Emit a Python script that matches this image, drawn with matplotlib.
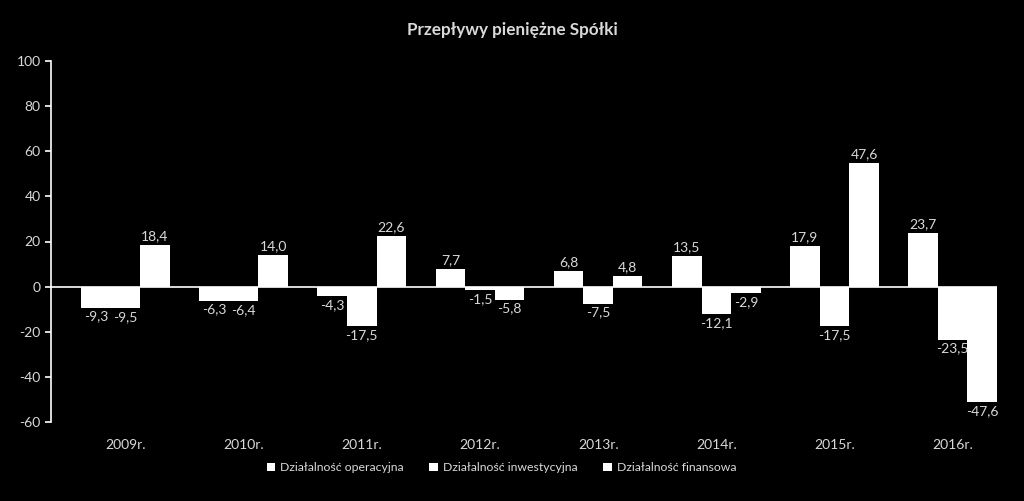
import numpy as np
import matplotlib.pyplot as plt

plt.rcParams['font.family'] = ['Lato', 'DejaVu Sans']
plt.rcParams['axes.unicode_minus'] = False

years = ['2009r.', '2010r.', '2011r.', '2012r.', '2013r.', '2014r.', '2015r.', '2016r.']
series_names = ['Działalność operacyjna', 'Działalność inwestycyjna', 'Działalność finansowa']

# bar heights as drawn in the picture
operacyjna = [-9.3, -6.3, -4.3, 7.7, 6.8, 13.5, 17.9, 23.7]
inwestycyjna = [-9.5, -6.4, -17.5, -1.5, -7.5, -12.1, -17.5, -23.5]
finansowa = [18.4, 14.0, 22.6, -5.8, 4.8, -2.9, 54.8, -51.1]

# printed labels (two of them differ from the drawn heights)
operacyjna_lbl = ['-9,3', '-6,3', '-4,3', '7,7', '6,8', '13,5', '17,9', '23,7']
inwestycyjna_lbl = ['-9,5', '-6,4', '-17,5', '-1,5', '-7,5', '-12,1', '-17,5', '-23,5']
finansowa_lbl = ['18,4', '14,0', '22,6', '-5,8', '4,8', '-2,9', '47,6', '-47,6']

fg = 'white'
txt = '#d9d9d9'

fig = plt.figure(figsize=(10.24, 5.01), dpi=100, facecolor='black')
ax = fig.add_axes([51 / 1024, 1 - 422 / 501, (997 - 51) / 1024, (422 - 61) / 501])
ax.set_facecolor('black')

x = np.arange(len(years))
w = 0.25
all_vals = [operacyjna, inwestycyjna, finansowa]
all_lbls = [operacyjna_lbl, inwestycyjna_lbl, finansowa_lbl]
for i, (vals, lbls) in enumerate(zip(all_vals, all_lbls)):
    pos = x + (i - 1) * w
    ax.bar(pos, vals, width=w, color=fg, edgecolor='none', label=series_names[i], zorder=2)
    for p, v, l in zip(pos, vals, lbls):
        if v >= 0:
            ax.annotate(l, (p, v), xytext=(0, 2), textcoords='offset points',
                        ha='center', va='bottom', color=txt, fontsize=10)
        else:
            ax.annotate(l, (p, v), xytext=(0, -2), textcoords='offset points',
                        ha='center', va='top', color=txt, fontsize=10)

ax.axhline(0, color=fg, lw=1.2, zorder=3)
ax.set_ylim(-60, 100)
ax.set_yticks(np.arange(-60, 101, 20))
ax.set_xlim(-0.63, 7.375)
ax.set_xticks(x)
ax.set_xticklabels(years)
ax.tick_params(axis='x', length=0, colors=txt, labelsize=10, pad=12)
ax.tick_params(axis='y', length=4, color=fg, labelcolor=txt, labelsize=10, width=1.2)
for s in ['top', 'right', 'bottom']:
    ax.spines[s].set_visible(False)
ax.spines['left'].set_color(fg)
ax.spines['left'].set_linewidth(1.2)

fig.text(0.5, 1 - 30 / 501, 'Przepływy pieniężne Spółki', ha='center', va='center',
         color=txt, fontsize=12.3, fontweight='bold')

leg = ax.legend(loc='center', bbox_to_anchor=(0.476, -0.127), ncol=3, frameon=False,
                fontsize=8.8, handlelength=0.7, handleheight=0.7, handletextpad=0.4,
                columnspacing=2.1)
for t in leg.get_texts():
    t.set_color(txt)

fig.savefig('out.png', facecolor='black')
